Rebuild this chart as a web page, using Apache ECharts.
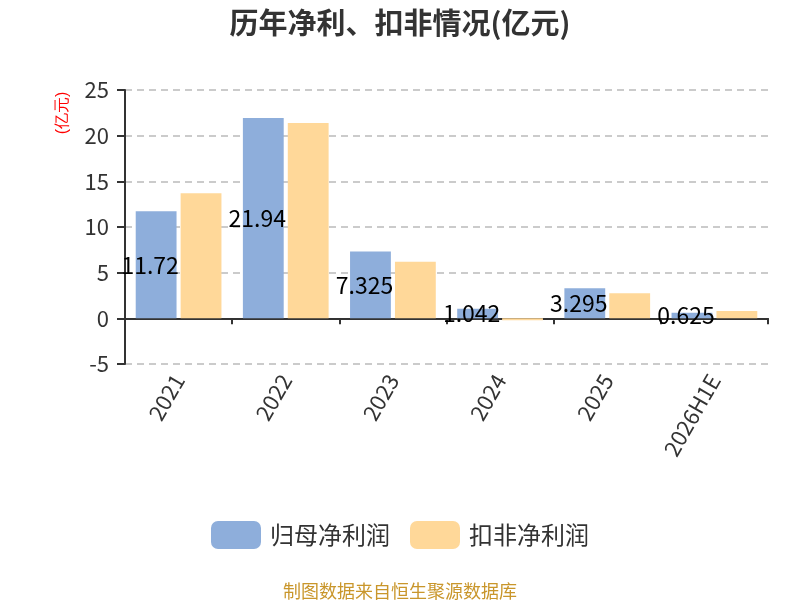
<!DOCTYPE html>
<html><head><meta charset="utf-8">
<script src="https://cdn.jsdelivr.net/npm/echarts@6/dist/echarts.min.js"></script>
<style>html,body{margin:0;padding:0;background:#fff}#c{width:800px;height:600px}</style>
</head><body><div id="c"></div>
<script>
const categories = ['2021', '2022', '2023', '2024', '2025', '2026H1E'];
const netProfit = [11.72, 21.94, 7.325, 1.042, 3.295, 0.625];
const deductedProfit = [13.7, 21.4, 6.2, -0.2, 2.75, 0.8];
const seriesNames = ['归母净利润', '扣非净利润'];
const yTicks = {min: -5, max: 25, interval: 5};

const font = '"Noto Sans CJK SC", "Microsoft YaHei", sans-serif';
const chart = echarts.init(document.getElementById('c'));
chart.setOption({
  textStyle: {fontFamily: font},
  title: [{
    text: '历年净利、扣非情况(亿元)', left: 'center', top: 3,
    textStyle: {fontSize: 29, fontWeight: 'bold', color: '#333', fontFamily: font}
  }, {
    text: '制图数据来自恒生聚源数据库', left: 'center', top: 577,
    textStyle: {fontSize: 18, fontWeight: 'normal', color: '#C9962B', fontFamily: font}
  }],
  graphic: [{
    type: 'text', x: 63, y: 113, rotation: Math.PI / 2,
    style: {text: '(亿元)', fill: '#ff0000', fontSize: 16, font: '16px ' + font, textAlign: 'center', textVerticalAlign: 'middle'}
  }],
  legend: {
    data: seriesNames, bottom: 46, left: 'center', itemWidth: 50, itemHeight: 28, itemGap: 20,
    icon: 'roundRect',
    textStyle: {fontSize: 24, color: '#333', fontFamily: font, padding: [0, 0, 0, 4]}
  },
  grid: {left: 125, right: 32, top: 90, bottom: 236},
  xAxis: {
    type: 'category', data: categories,
    axisLine: {onZero: true, lineStyle: {color: '#333', width: 2}},
    axisTick: {show: true, length: 6, lineStyle: {color: '#333', width: 2}},
    axisLabel: {rotate: 60, fontSize: 22, color: '#333', margin: 12, fontFamily: font}
  },
  yAxis: {
    type: 'value', min: yTicks.min, max: yTicks.max, interval: yTicks.interval,
    axisLine: {show: true, lineStyle: {color: '#333', width: 2}},
    axisTick: {show: true, length: 8, lineStyle: {color: '#333', width: 2}},
    axisLabel: {fontSize: 22, color: '#333', margin: 16, fontFamily: font},
    splitLine: {lineStyle: {type: [7, 5], color: '#bbb', width: 1.5}}
  },
  series: [{
    name: seriesNames[0], type: 'bar', data: netProfit, z: 2,
    barGap: '10%', barCategoryGap: '20%',
    itemStyle: {color: '#8EAEDB'},
    label: {show: true, position: 'inside', offset: [-6, 0], color: '#000', fontSize: 23, fontFamily: font}
  }, {
    name: seriesNames[1], type: 'bar', data: deductedProfit, z: 3,
    itemStyle: {color: '#FFD899'}
  }]
});
</script></body></html>
